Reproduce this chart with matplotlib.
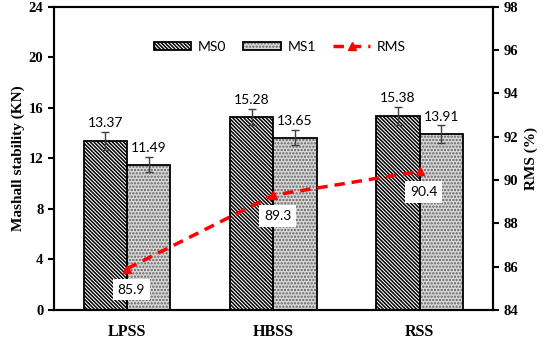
import numpy as np
import matplotlib.pyplot as plt

categories = ["LPSS", "HBSS", "RSS"]
ms0 = [13.37, 15.28, 15.38]
ms1 = [11.49, 13.65, 13.91]
ms0_err = [0.7, 0.65, 0.7]
ms1_err = [0.6, 0.6, 0.7]
rms = [85.9, 89.3, 90.4]

serif = "Liberation Serif"
sans = "Lato"
plt.rcParams["hatch.linewidth"] = 1.1

fig = plt.figure(figsize=(5.5, 3.42), dpi=100)
ax = fig.add_axes([0.098, 0.094, 0.798, 0.886])
ax2 = ax.twinx()

x = np.arange(len(categories))
w = 0.295

# bars: hatch first, outline on top
b0 = ax.bar(x - w / 2, ms0, w, color="white", edgecolor="black", hatch="\\" * 9, linewidth=0)
b1 = ax.bar(x + w / 2, ms1, w, color="#d8d8d8", edgecolor="#606060", hatch=".....", linewidth=0)
o0 = ax.bar(x - w / 2, ms0, w, fill=False, edgecolor="black", linewidth=1.3)
o1 = ax.bar(x + w / 2, ms1, w, fill=False, edgecolor="black", linewidth=1.3)

ax.errorbar(x - w / 2, ms0, yerr=ms0_err, fmt="none", ecolor="#404040", capsize=3, elinewidth=1)
ax.errorbar(x + w / 2, ms1, yerr=ms1_err, fmt="none", ecolor="#404040", capsize=3, elinewidth=1)

for i in range(len(x)):
    ax.annotate(f"{ms0[i]:.2f}", (x[i] - w / 2, ms0[i] + ms0_err[i]), xytext=(0, 2),
                textcoords="offset points", ha="center", va="bottom", fontsize=10, family=sans)
    ax.annotate(f"{ms1[i]:.2f}", (x[i] + w / 2, ms1[i] + ms1_err[i]), xytext=(0, 2),
                textcoords="offset points", ha="center", va="bottom", fontsize=10, family=sans)

ln, = ax2.plot(x, rms, color="red", linestyle=(0, (3, 2)), linewidth=2.5,
               marker="^", markersize=6, label="RMS")
for i in range(len(x)):
    ax2.annotate(f"{rms[i]}", (x[i], rms[i]), xytext=(3, -15), textcoords="offset points",
                 ha="center", va="center", fontsize=10, family=sans,
                 bbox=dict(boxstyle="square,pad=0.35", fc="white", ec="none"))

ax.set_xlim(-0.5, 2.5)
ax.set_ylim(0, 24)
ax.set_yticks(np.arange(0, 25, 4))
ax2.set_ylim(84, 98)
ax2.set_yticks(np.arange(84, 99, 2))
ax.set_xticks(x)
ax.set_xticklabels(categories)

for a in (ax, ax2):
    for s in a.spines.values():
        s.set_linewidth(1.5)
    a.tick_params(axis="y", direction="out", length=4, width=1.5, labelsize=10.5)
    for t in a.get_yticklabels():
        t.set_family(serif)
        t.set_fontweight("bold")
ax.tick_params(axis="x", length=0, pad=10, labelsize=11.5)
for t in ax.get_xticklabels():
    t.set_family(serif)
    t.set_fontweight("bold")

ax.set_ylabel("Mashall stability (KN)", family=serif, fontsize=11, fontweight="bold", labelpad=3)
ax2.set_ylabel("RMS (%)", family=serif, fontsize=11, fontweight="bold", labelpad=5)

ax.legend([(b0[0], o0[0]), (b1[0], o1[0]), ln], ["MS0", "MS1", "RMS"], loc="center",
          bbox_to_anchor=(0.515, 0.868), ncol=3, frameon=False,
          prop={"family": sans, "size": 10}, handlelength=2.7, handleheight=0.5,
          columnspacing=1.2, handletextpad=0.5)

fig.savefig("out.png", dpi=100)
